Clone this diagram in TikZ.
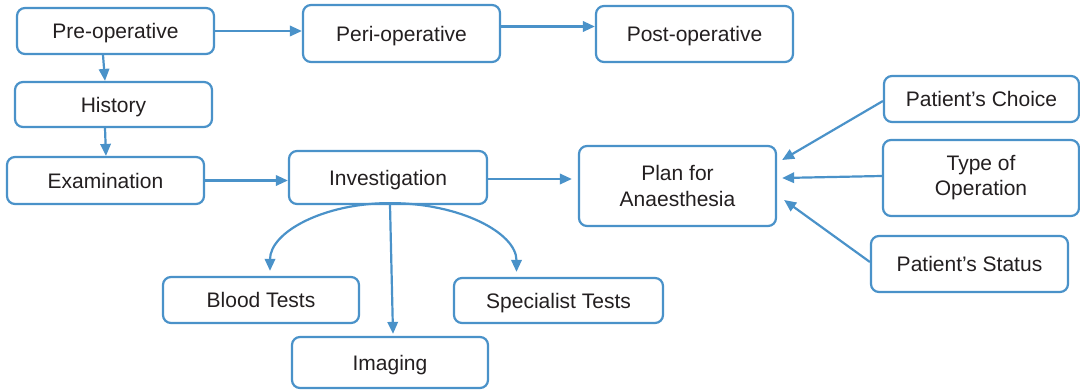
\documentclass[tikz,border=0pt]{standalone}
\usepackage{fontspec}
\setmainfont{Liberation Sans}
\usetikzlibrary{arrows.meta}
\definecolor{bl}{RGB}{74,146,201}
\definecolor{tx}{RGB}{35,31,32}
\begin{document}
\begin{tikzpicture}[x=0.5pt,y=-0.5pt,
  box/.style={draw=bl,line width=1.1pt,rounded corners=4pt,fill=white,text=tx,
    font=\fontsize{10.5}{12.8}\selectfont,align=center,inner sep=0pt},
  one/.style={box,text height=7.6pt,text depth=0pt},
  conn/.style={draw=bl,line width=1.1pt,-{Triangle[length=6pt,width=5.2pt]}}]
\useasboundingbox (0,0) rectangle (1080,390);
\node[one,minimum width=98.5pt,minimum height=23pt] (pre) at (115.5,31) {Pre-operative};
\node[one,minimum width=98.5pt,minimum height=28.5pt] (peri) at (401.5,33.5) {Peri-operative};
\node[one,minimum width=98.5pt,minimum height=28pt] (post) at (694.5,34) {Post-operative};
\node[one,minimum width=98.5pt,minimum height=22.5pt] (hist) at (113.5,104.5) {History};
\node[one,minimum width=98.5pt,minimum height=23.5pt] (exam) at (105.5,180.5) {Examination};
\node[one,minimum width=99pt,minimum height=26.5pt] (inv) at (388,177.5) {Investigation};
\node[box,minimum width=98.5pt,minimum height=40pt] (plan) at (677.5,186) {Plan for\\Anaesthesia};
\node[one,minimum width=97.5pt,minimum height=23pt] (choice) at (981.5,99) {Patient’s Choice};
\node[box,minimum width=98pt,minimum height=38pt] (type) at (981,178) {\raisebox{-1.5pt}{\begin{tabular}{@{}c@{}}Type of\\Operation\end{tabular}}};
\node[one,minimum width=98.5pt,minimum height=28pt] (status) at (969.5,264) {Patient’s Status};
\node[one,minimum width=98pt,minimum height=23pt] (blood) at (261,300) {Blood Tests};
\node[one,minimum width=104.5pt,minimum height=22.5pt] (spec) at (558.5,300.5) {Specialist Tests};
\node[one,minimum width=98pt,minimum height=25.5pt] (imag) at (390,362.5) {Imaging};
% connectors
\draw[conn] (pre.east) -- (pre.east -| peri.west);
\draw[conn] ([yshift=3.5pt]peri.east) -- ([yshift=3.5pt]peri.east -| post.west);
\draw[conn] ([xshift=-6.25pt]pre.south) -- ([xshift=-4.25pt]hist.north);
\draw[conn] ([xshift=-4.25pt]hist.south) -- ([xshift=0.25pt]exam.north);
\draw[conn] (exam.east) -- (exam.east -| inv.west);
\draw[conn,shorten >=3pt] ([yshift=-0.75pt]inv.east) -- ([yshift=-0.75pt]inv.east -| plan.west);
\draw[conn] ([xshift=1pt,yshift=1pt]inv.south) .. controls +(-66,0) and +(0,-39) .. ([xshift=4.5pt,yshift=2.5pt]blood.north);
\draw[conn] ([xshift=1pt,yshift=1pt]inv.south) .. controls +(70,0) and +(0,-39) .. ([xshift=-21pt,yshift=2.5pt]spec.north);
\draw[conn] ([xshift=1pt]inv.south) -- ([xshift=1.5pt,yshift=1pt]imag.north);
\draw[conn] ([yshift=-1pt]choice.west) -- ([xshift=2.5pt,yshift=13pt]plan.east);
\draw[conn] ([yshift=1pt]type.west) -- ([xshift=2.5pt,yshift=4pt]plan.east);
\draw[conn] ([yshift=1pt]status.west) -- ([xshift=3.5pt,yshift=-7pt]plan.east);
\end{tikzpicture}
\end{document}
